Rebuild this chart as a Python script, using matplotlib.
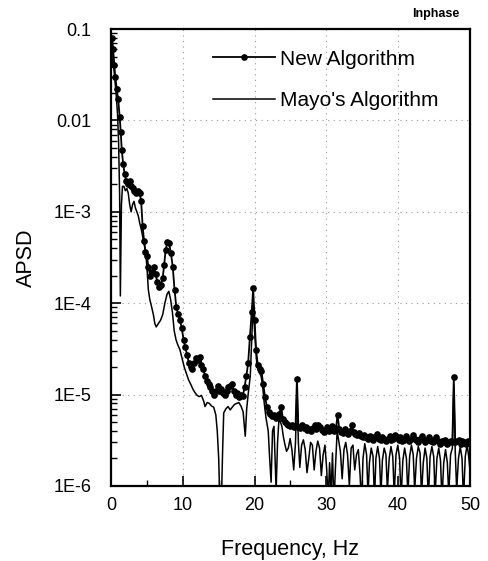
import matplotlib.pyplot as plt
from matplotlib.ticker import LogLocator, FixedLocator, NullFormatter
import numpy as np

plt.rcParams['font.family'] = ['Liberation Sans', 'DejaVu Sans']

# New Algorithm
new_freq = [0.0, 0.15, 0.3, 0.45, 0.6, 0.8, 1.0, 1.2, 1.35, 1.5, 1.7, 1.9, 2.1, 2.35, 2.6, 2.8,
            3.0, 3.25, 3.5, 3.75, 4.0, 4.2, 4.4, 4.6, 4.8, 5.0, 5.2, 5.45, 5.7, 5.95, 6.2, 6.45,
            6.7, 6.95, 7.2, 7.4, 7.6, 7.85, 8.1, 8.35, 8.6, 8.85, 9.1, 9.35, 9.6, 9.85, 10.1,
            10.35, 10.6, 10.85, 11.1, 11.35, 11.6, 11.85, 12.1, 12.35, 12.6, 12.85, 13.1, 13.35,
            13.6, 13.85, 14.1, 14.35, 14.6, 14.85, 15.1, 15.35, 15.6, 15.85, 16.1, 16.35, 16.6,
            16.85, 17.1, 17.35, 17.6, 17.85, 18.1, 18.35, 18.6, 18.85, 19.1, 19.35, 19.6, 19.8,
            20.0, 20.2, 20.45, 20.7, 20.95, 21.2, 21.45, 21.7, 21.95, 22.2, 22.45, 22.7, 22.95,
            23.2, 23.45, 23.7, 23.95, 24.2, 24.45, 24.7, 24.95, 25.2, 25.45, 25.7, 25.9, 26.1,
            26.35, 26.6, 26.85, 27.1, 27.35, 27.6, 27.85, 28.1, 28.35, 28.6, 28.85, 29.1, 29.35,
            29.6, 29.85, 30.1, 30.35, 30.6, 30.85, 31.1, 31.35, 31.55, 31.8, 32.05, 32.3, 32.55,
            32.8, 33.05, 33.3, 33.55, 33.8, 34.05, 34.3, 34.55, 34.8, 35.05, 35.3, 35.55, 35.8,
            36.05, 36.3, 36.55, 36.8, 37.05, 37.3, 37.55, 37.8, 38.05, 38.3, 38.55, 38.8, 39.05,
            39.3, 39.55, 39.8, 40.05, 40.3, 40.55, 40.8, 41.05, 41.3, 41.55, 41.8, 42.05, 42.3,
            42.55, 42.8, 43.05, 43.3, 43.55, 43.8, 44.05, 44.3, 44.55, 44.8, 45.05, 45.3, 45.55,
            45.8, 46.05, 46.3, 46.55, 46.8, 47.05, 47.3, 47.55, 47.75, 47.95, 48.2, 48.45, 48.7,
            48.95, 49.2, 49.45, 49.7, 50.0]
new_apsd = [0.045, 0.08, 0.06, 0.04, 0.03, 0.022, 0.017, 0.011, 0.0075, 0.0047, 0.0033, 0.0026,
            0.0022, 0.0020, 0.0022, 0.0019, 0.0018, 0.0017, 0.0016, 0.0017, 0.0016, 0.0013,
            7.0e-4, 4.8e-4, 3.6e-4, 3.3e-4, 2.5e-4, 2.0e-4, 2.2e-4, 2.5e-4, 2.1e-4, 1.7e-4,
            1.5e-4, 1.6e-4, 1.9e-4, 2.6e-4, 3.8e-4, 4.7e-4, 4.5e-4, 3.5e-4, 2.5e-4, 1.4e-4,
            9.0e-5, 7.6e-5, 6.5e-5, 5.4e-5, 4.0e-5, 3.3e-5, 2.7e-5, 2.2e-5, 2.0e-5, 1.9e-5,
            2.2e-5, 2.5e-5, 2.4e-5, 2.6e-5, 2.1e-5, 1.9e-5, 1.6e-5, 1.4e-5, 1.3e-5, 1.2e-5,
            1.1e-5, 1.0e-5, 1.1e-5, 1.25e-5, 1.1e-5, 1.15e-5, 1.05e-5, 1.0e-5, 1.1e-5, 1.2e-5,
            1.25e-5, 1.3e-5, 1.1e-5, 1.0e-5, 1.05e-5, 9.5e-6, 9.8e-6, 9.6e-6, 1.2e-5, 1.6e-5,
            2.2e-5, 4.3e-5, 8.0e-5, 1.45e-4, 6.5e-5, 3.1e-5, 2.1e-5, 1.9e-5, 1.8e-5, 1.3e-5,
            9.5e-6, 7.4e-6, 6.4e-6, 6.2e-6, 5.9e-6, 6.0e-6, 5.6e-6, 5.9e-6, 6.2e-6, 7.4e-6,
            5.4e-6, 5.0e-6, 4.8e-6, 4.6e-6, 4.5e-6, 4.6e-6, 4.4e-6, 4.5e-6, 1.5e-5, 4.4e-6,
            4.3e-6, 4.6e-6, 4.3e-6, 4.4e-6, 4.1e-6, 4.2e-6, 4.0e-6, 4.3e-6, 4.6e-6, 4.2e-6,
            4.7e-6, 4.4e-6, 4.1e-6, 3.9e-6, 4.0e-6, 4.4e-6, 4.0e-6, 4.2e-6, 4.5e-6, 4.0e-6,
            4.3e-6, 6.0e-6, 4.2e-6, 3.9e-6, 3.8e-6, 4.2e-6, 3.9e-6, 3.7e-6, 4.0e-6, 4.6e-6,
            3.9e-6, 3.7e-6, 3.6e-6, 3.8e-6, 3.5e-6, 3.4e-6, 3.6e-6, 3.4e-6, 3.3e-6, 3.5e-6,
            3.4e-6, 3.2e-6, 3.4e-6, 3.7e-6, 3.3e-6, 3.2e-6, 3.4e-6, 3.3e-6, 3.1e-6, 3.3e-6,
            3.5e-6, 3.2e-6, 3.3e-6, 3.6e-6, 3.4e-6, 3.2e-6, 3.4e-6, 3.1e-6, 3.2e-6, 3.5e-6,
            3.3e-6, 3.1e-6, 3.3e-6, 3.6e-6, 3.3e-6, 3.2e-6, 3.0e-6, 3.3e-6, 3.5e-6, 3.2e-6,
            3.0e-6, 3.2e-6, 3.4e-6, 3.1e-6, 3.0e-6, 3.2e-6, 3.4e-6, 3.1e-6, 2.9e-6, 3.1e-6,
            3.0e-6, 3.2e-6, 2.9e-6, 3.0e-6, 3.1e-6, 3.0e-6, 1.55e-5, 3.0e-6, 3.1e-6, 3.2e-6,
            2.9e-6, 3.1e-6, 3.0e-6, 2.9e-6, 3.1e-6, 3.0e-6]

# Mayo's Algorithm
mayo_freq = [0.0, 0.15, 0.3, 0.5, 0.7, 0.9, 1.05, 1.2, 1.3, 1.45, 1.6, 1.8, 2.0, 2.2, 2.4, 2.6,
             2.8, 3.0, 3.2, 3.4, 3.6, 3.8, 4.0, 4.2, 4.5, 4.8, 5.0, 5.2, 5.4, 5.6, 5.9, 6.1, 6.3,
             6.6, 6.9, 7.2, 7.5, 7.8, 8.05, 8.3, 8.55, 8.8, 9.05, 9.3, 9.6, 9.9, 10.2, 10.5,
             10.8, 11.1, 11.4, 11.7, 12.0, 12.3, 12.6, 12.9, 13.1, 13.4, 13.7, 14.0, 14.3, 14.6,
             14.8, 15.0, 15.2, 15.4, 15.55, 15.7, 16.0, 16.3, 16.6, 16.9, 17.2, 17.5, 17.8,
             18.1, 18.4, 18.7, 18.9, 19.1, 19.4, 19.6, 19.8, 20.0, 20.3, 20.6, 20.9, 21.1,
             21.35, 21.6, 21.9, 22.1, 22.3, 22.5, 22.7, 22.85, 23.0, 23.2, 23.4, 23.6, 23.8,
             24.0, 24.2, 24.45, 24.7, 24.95, 25.2, 25.45, 25.7, 25.9, 26.1, 26.3, 26.55, 26.8,
             27.05, 27.3, 27.55, 27.8, 28.05, 28.3, 28.55, 28.8, 29.05, 29.3, 29.55, 29.8,
             30.05, 30.25, 30.45, 30.65, 30.85, 31.05, 31.25, 31.5, 31.7, 31.95, 32.2, 32.45,
             32.7, 32.95, 33.2, 33.45, 33.7, 33.95, 34.2, 34.45, 34.7, 34.9, 35.1, 35.35, 35.6,
             35.8, 36.0, 36.25, 36.5, 36.7, 36.9, 37.15, 37.4, 37.6, 37.8, 38.05, 38.3, 38.5,
             38.75, 39.0, 39.25, 39.45, 39.7, 39.95, 40.2, 40.4, 40.65, 40.9, 41.15, 41.35,
             41.6, 41.85, 42.1, 42.3, 42.55, 42.8, 43.05, 43.25, 43.5, 43.75, 44.0, 44.2,
             44.45, 44.7, 44.95, 45.15, 45.4, 45.65, 45.9, 46.1, 46.35, 46.6, 46.85, 47.05,
             47.3, 47.55, 47.75, 47.95, 48.15, 48.4, 48.65, 48.9, 49.1, 49.35, 49.6, 49.8, 50.0]
mayo_apsd = [0.05, 0.07, 0.045, 0.03, 0.02, 0.012, 0.006, 0.0015, 1.2e-4, 0.0012, 0.0019,
             0.0019, 0.0017, 0.0018, 0.0016, 0.0012, 0.0010, 0.0012, 0.0013, 0.0011, 0.0010,
             9.0e-4, 7.5e-4, 6.5e-4, 5.0e-4, 3.8e-4, 2.5e-4, 1.4e-4, 1.1e-4, 9.5e-5, 7.5e-5,
             6.0e-5, 5.5e-5, 6.0e-5, 6.5e-5, 7.5e-5, 1.0e-4, 1.25e-4, 1.35e-4, 1.1e-4, 8.0e-5,
             5.0e-5, 4.0e-5, 3.5e-5, 3.1e-5, 2.5e-5, 2.0e-5, 1.7e-5, 1.45e-5, 1.3e-5, 1.15e-5,
             1.05e-5, 9.8e-6, 9.5e-6, 9.8e-6, 8.5e-6, 7.4e-6, 8.2e-6, 8.0e-6, 7.5e-6, 7.3e-6,
             6.0e-6, 4.0e-6, 2.0e-6, 5e-7, 8e-7, 2.5e-6, 6.3e-6, 7.0e-6, 7.4e-6, 6.8e-6, 7.3e-6,
             7.8e-6, 8.0e-6, 8.2e-6, 7.5e-6, 6.5e-6, 3.5e-6, 7.0e-6, 1.0e-5, 1.6e-5, 4.0e-5,
             1.0e-4, 5.0e-5, 2.2e-5, 1.8e-5, 1.6e-5, 1.3e-5, 8.0e-6, 5.5e-6, 4.0e-6, 2.0e-6,
             1.1e-6, 4.0e-6, 4.5e-6, 2.0e-6, 9e-7, 3.0e-6, 5.5e-6, 5.0e-6, 4.5e-6, 3.5e-6,
             2.9e-6, 2.4e-6, 2.6e-6, 3.3e-6, 2.5e-6, 1.5e-6, 3.0e-6, 1.2e-5, 3.0e-6, 1.6e-6,
             2.8e-6, 3.2e-6, 2.5e-6, 1.4e-6, 2.0e-6, 3.0e-6, 2.8e-6, 1.5e-6, 2.4e-6, 3.1e-6,
             2.6e-6, 1.3e-6, 2.2e-6, 2.8e-6, 1.5e-6, 7e-7, 1.8e-6, 8e-7, 2.3e-6, 6e-7, 1.5e-6,
             4.0e-6, 3.2e-6, 2.4e-6, 1.2e-6, 2.5e-6, 3.0e-6, 2.2e-6, 1.0e-6, 2.6e-6, 2.8e-6,
             1.5e-6, 2.2e-6, 2.5e-6, 1.3e-6, 6e-7, 2.0e-6, 2.9e-6, 2.2e-6, 8e-7, 1.8e-6, 2.6e-6,
             2.1e-6, 7e-7, 2.0e-6, 2.7e-6, 2.0e-6, 8e-7, 1.9e-6, 2.6e-6, 2.2e-6, 9e-7, 2.0e-6,
             2.7e-6, 2.1e-6, 8e-7, 2.2e-6, 2.8e-6, 2.0e-6, 7e-7, 1.9e-6, 2.6e-6, 2.0e-6, 8e-7,
             2.1e-6, 2.8e-6, 2.2e-6, 9e-7, 2.0e-6, 2.7e-6, 2.3e-6, 8e-7, 1.8e-6, 2.6e-6, 2.0e-6,
             7e-7, 2.1e-6, 2.7e-6, 2.1e-6, 8e-7, 2.0e-6, 2.6e-6, 1.9e-6, 7e-7, 1.8e-6, 2.5e-6,
             1.8e-6, 8e-7, 2.2e-6, 2.6e-6, 1.2e-5, 2.4e-6, 9e-7, 2.0e-6, 2.7e-6, 2.0e-6, 7e-7,
             2.1e-6, 2.8e-6, 2.2e-6, 1.5e-6]

x_ticks = [0, 10, 20, 30, 40, 50]
y_ticks = [1e-6, 1e-5, 1e-4, 1e-3, 0.01, 0.1]
y_ticklabels = ['1E-6', '1E-5', '1E-4', '1E-3', '0.01', '0.1']

fig = plt.figure(figsize=(4.88, 5.61), dpi=100)
ax = fig.add_axes([0.2275, 0.1337, 0.7355, 0.8146])

ax.plot(new_freq, new_apsd, color='black', lw=1.3, marker='o', ms=3.8,
        label='New Algorithm')
ax.plot(mayo_freq, mayo_apsd, color='black', lw=1.1, label="Mayo's Algorithm")

ax.set_yscale('log')
ax.set_xlim(0, 50)
ax.set_ylim(1e-6, 0.1)

ax.set_xticks(x_ticks)
ax.xaxis.set_minor_locator(FixedLocator([5, 15, 25, 35, 45]))
ax.set_yticks(y_ticks)
ax.set_yticklabels(y_ticklabels)
ax.yaxis.set_minor_locator(LogLocator(base=10, subs=np.arange(2, 10)))
ax.yaxis.set_minor_formatter(NullFormatter())

ax.tick_params(axis='both', which='major', direction='in', length=7, width=1.2,
               labelsize=13, top=False, right=False)
ax.tick_params(axis='both', which='minor', direction='in', length=4, width=1.0,
               top=False, right=False)
ax.tick_params(axis='y', which='both', pad=14)
ax.tick_params(axis='x', which='both', pad=8)

for s in ax.spines.values():
    s.set_linewidth(1.6)

ax.grid(True, which='major', color='#999999', linestyle=(0, (1, 4)), linewidth=0.8)

ax.set_xlabel('Frequency, Hz', fontsize=15.5, labelpad=18)
ax.set_ylabel('APSD', fontsize=15.5, labelpad=12)

ax.legend(loc='upper left', frameon=False, fontsize=15, handlelength=3.0,
          labelspacing=1.1, handletextpad=0.2, borderaxespad=0, borderpad=0,
          bbox_to_anchor=(0.284, 0.955))

fig.text(0.892, 0.975, 'Inphase', fontsize=9, fontweight='bold', ha='center', va='center')

fig.savefig('out.png', dpi=100)
